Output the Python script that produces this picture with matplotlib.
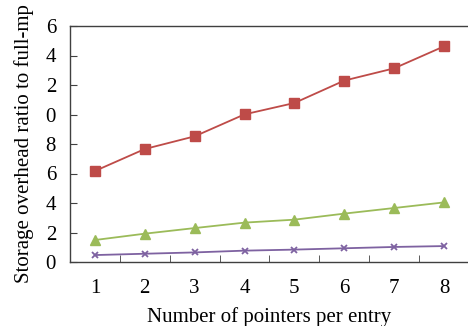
import matplotlib
matplotlib.use("Agg")
import matplotlib.pyplot as plt

x = [1, 2, 3, 4, 5, 6, 7, 8]
red = [6.17, 7.66, 8.52, 10.01, 10.78, 12.3, 13.13, 14.62]
green = [1.49, 1.92, 2.3, 2.67, 2.87, 3.28, 3.66, 4.04]
purple = [0.47, 0.56, 0.65, 0.77, 0.84, 0.93, 1.02, 1.08]
yticks = [0, 2, 4, 6, 8, 10, 12, 14, 16]
ytick_labels = ['0', '2', '4', '6', '8', '0', '2', '4', '6']
xtick_labels = ['1', '2', '3', '4', '5', '6', '7', '8']

plt.rcParams['font.family'] = ['Liberation Serif', 'DejaVu Serif']

fig = plt.figure(figsize=(4.68, 3.26), dpi=100)
ax = fig.add_axes([70/468, 1-262/326, 1.0 - 70/468 + 0.002, (262-26)/326])

ax.plot(x, red, color='#BE4B48', marker='s', markersize=7, linewidth=1.3)
ax.plot(x, green, color='#9BBB59', marker='^', markersize=7, linewidth=1.3)
ax.plot(x, purple, color='#7E62A1', marker='x', markersize=5, markeredgewidth=1.3, linewidth=1.3)

ax.set_xlim(0.5, 8.5)
ax.set_ylim(0, 16)
ax.set_yticks(yticks)
ax.set_yticklabels(ytick_labels)
ax.set_xticks(x)
ax.set_xticklabels(xtick_labels)
ax.set_xticks([i + 0.5 for i in range(1, 8)], minor=True)
ax.tick_params(axis='x', which='major', length=0, pad=12, labelsize=15)
ax.tick_params(axis='x', which='minor', direction='in', length=5, color='#404040')
ax.tick_params(axis='y', direction='in', length=5, color='#404040', pad=10, labelsize=15)

for s in ax.spines.values():
    s.set_color('#404040')
    s.set_linewidth(1.0)

ax.set_xlabel('Number of pointers per entry', fontsize=15, labelpad=7)
ax.set_ylabel('Storage overhead ratio to full-mp', fontsize=15, labelpad=8)

fig.savefig('out.png', dpi=100)
